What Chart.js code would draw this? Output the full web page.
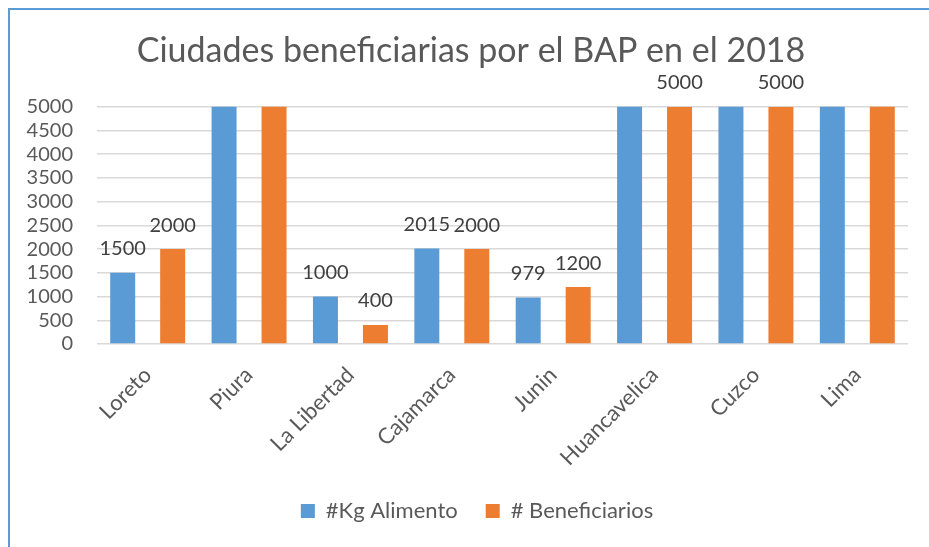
<!DOCTYPE html>
<html>
<head>
<meta charset="utf-8">
<script src="https://cdn.jsdelivr.net/npm/chart.js@4"></script>
<style>
    body { margin: 0; background: #FFFFFF; overflow: hidden; }
    #wrap { position: relative; width: 929px; height: 547px; }
    #frame {
        position: absolute; left: 8px; top: 8px; width: 940px; height: 560px;
        border-left: 2px solid #5B9BD5; border-top: 2px solid #5B9BD5;
        pointer-events: none;
    }
</style>
</head>
<body>
<div id="wrap">
    <canvas id="chartBap" width="929" height="547"></canvas>
    <div id="frame"></div>
</div>
<script>
// Data -----------------------------------------------------------------------
var ciudades = ['Loreto', 'Piura', 'La Libertad', 'Cajamarca', 'Junin', 'Huancavelica', 'Cuzco', 'Lima'];
// values above 5000 run past the axis top (their labels are hidden in the picture)
var kgAlimento = [1500, 10000, 1000, 2015, 979, 6000, 6000, 20000];
var beneficiarios = [2000, 8000, 400, 2000, 1200, 5000, 5000, 15000];
var yTicks = [0, 500, 1000, 1500, 2000, 2500, 3000, 3500, 4000, 4500, 5000];

var colors = Array('#5B9BD5', '#ED7D31', '#595959', '#404040', '#D9D9D9');
var fontName = 'Lato';

// Value labels above bars (only those inside the axis range) -----------------
const valueLabels = {
    id: 'valueLabels',
    afterDatasetsDraw(chart) {
        var ctx = chart.ctx;
        var yMax = chart.scales.y.max;
        ctx.save();
        ctx.font = '20px ' + fontName;
        ctx.fillStyle = colors[3];
        ctx.textAlign = 'center';
        ctx.textBaseline = 'middle';
        chart.data.datasets.forEach(function(ds, i) {
            chart.getDatasetMeta(i).data.forEach(function(bar, j) {
                if (ds.data[j] <= yMax) {
                    ctx.fillText(ds.data[j].toString(), bar.x, bar.y - 24);
                }
            });
        });
        ctx.restore();
    }
};

// Title and legend sit a bit right of the plot centre in the original --------
const shiftBlocks = {
    id: 'shiftBlocks',
    afterLayout(chart) {
        if (chart.titleBlock) {
            chart.titleBlock.left += 17;
            chart.titleBlock.right += 17;
        }
        if (chart.legend) {
            chart.legend.left += 23;
            chart.legend.right += 23;
        }
    }
};

const ctx_bap = document.getElementById('chartBap').getContext('2d');

const chartBap = new Chart(ctx_bap, {
    type: 'bar',
    data: {
        labels: ciudades,
        datasets: [{
            label: '#Kg Alimento',
            data: kgAlimento,
            backgroundColor: colors[0],
            categoryPercentage: 0.986,
            barPercentage: 0.5,
            clip: 0
        }, {
            label: '# Beneficiarios',
            data: beneficiarios,
            backgroundColor: colors[1],
            categoryPercentage: 0.986,
            barPercentage: 0.5,
            clip: 0
        }]
    },
    options: {
        responsive: false,
        animation: false,
        layout: {
            padding: { left: 0, right: 21, top: 0, bottom: 15 }
        },
        plugins: {
            title: {
                display: true,
                text: 'Ciudades beneficiarias por el BAP en el 2018',
                color: colors[2],
                font: { family: fontName, size: 34, weight: 'normal' },
                padding: { top: 31, bottom: 35 }
            },
            legend: {
                position: 'bottom',
                labels: {
                    color: colors[2],
                    font: { family: fontName, size: 22 },
                    boxWidth: 14,
                    boxHeight: 14,
                    padding: 28
                }
            },
            tooltip: { enabled: false }
        },
        scales: {
            x: {
                grid: { display: false },
                border: { display: false },
                ticks: {
                    color: colors[2],
                    font: { family: fontName, size: 22 },
                    minRotation: 45,
                    maxRotation: 45,
                    padding: 10
                },
                afterFit: function(scale) { scale.height = 128; }
            },
            y: {
                min: 0,
                max: 5000,
                afterBuildTicks: function(scale) {
                    scale.ticks = yTicks.map(function(v) { return { value: v }; });
                },
                grid: { color: colors[4], lineWidth: 1.5, drawTicks: false },
                border: { display: false },
                ticks: {
                    color: colors[2],
                    font: { family: fontName, size: 20 },
                    padding: 24,
                    autoSkip: false,
                    callback: function(value) { return value.toString(); }
                },
                afterFit: function(scale) { scale.width = 97; }
            }
        }
    },
    plugins: [valueLabels, shiftBlocks]
});
</script>
</body>
</html>
